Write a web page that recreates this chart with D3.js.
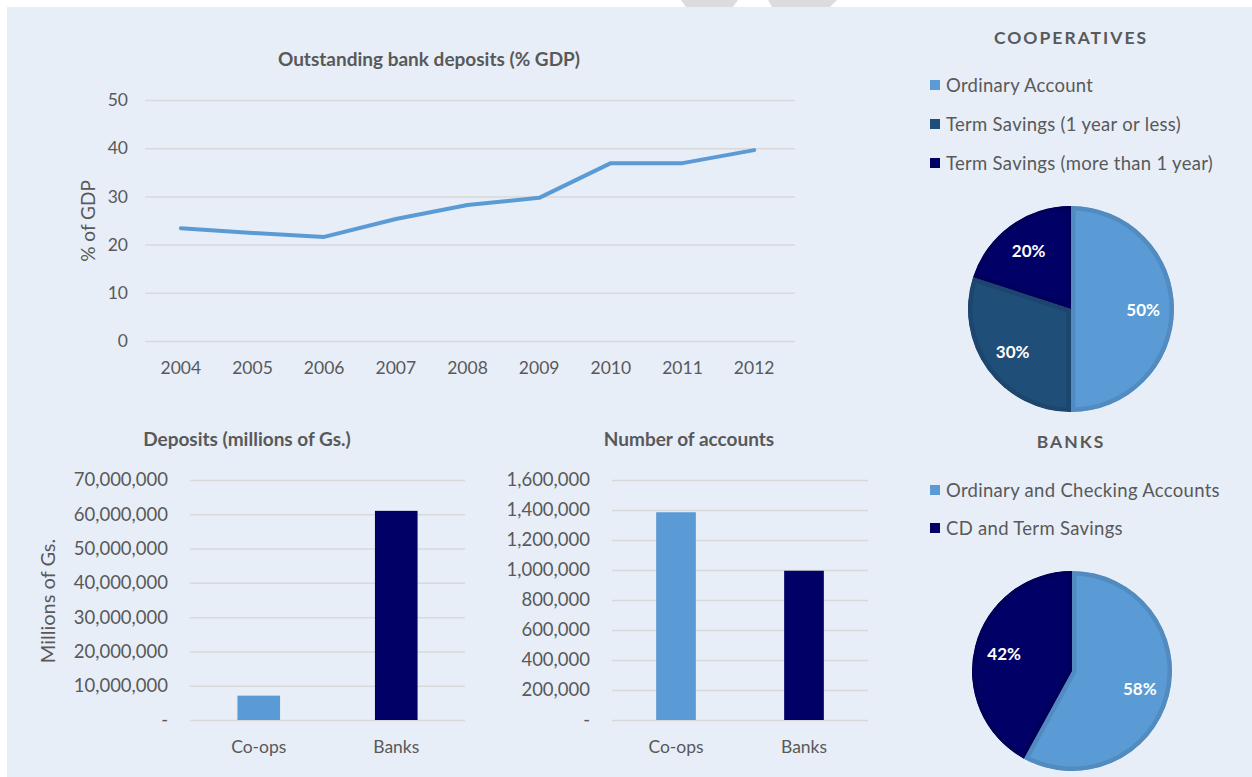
<!DOCTYPE html>
<html>
<head>
<meta charset="utf-8">
<script src="https://cdn.jsdelivr.net/npm/d3@7"></script>
<style>
  html, body { margin: 0; padding: 0; background: #ffffff; }
  svg { display: block; font-family: Lato, "Open Sans", sans-serif; }
</style>
</head>
<body>
<svg id="dash" width="1252" height="777"></svg>
<script>
// ---- data ----
const years = ['2004', '2005', '2006', '2007', '2008', '2009', '2010', '2011', '2012'];
const depositsPctGDP = [23.4, 22.4, 21.6, 25.3, 28.2, 29.7, 36.9, 36.9, 39.6];
const pctTicks = [0, 10, 20, 30, 40, 50];

const institutions = ['Co-ops', 'Banks'];
const depositsMillions = [7100000, 61000000];
const depositTicks = [0, 10000000, 20000000, 30000000, 40000000, 50000000, 60000000, 70000000];
const accountCounts = [1385000, 995000];
const accountTicks = [0, 200000, 400000, 600000, 800000, 1000000, 1200000, 1400000, 1600000];

const coopTypes = ['Ordinary Account', 'Term Savings (1 year or less)', 'Term Savings (more than 1 year)'];
const coopShares = [50, 30, 20];
const bankTypes = ['Ordinary and Checking Accounts', 'CD and Term Savings'];
const bankShares = [58, 42];

// ---- styling ----
const TEXT = '#595959';
const GRID = '#d9d9d9';
const LIGHT = '#5b9bd5';
const MID = '#1f4e79';
const NAVY = '#000066';

const svg = d3.select('#dash');

// panel background and the grey shape peeking above it
svg.append('polygon').attr('points', '681,0 738,0 733,7 686,7').attr('fill', '#dcdcdc');
svg.append('polygon').attr('points', '768,0 837,0 830,7 772,7').attr('fill', '#dcdcdc');
svg.append('rect').attr('x', 7).attr('y', 7).attr('width', 1245).attr('height', 770).attr('fill', '#e7eef8');

const tickFmt = d => d === 0 ? '-' : d3.format(',')(d);

function title(x, y, txt, opts = {}) {
  return svg.append('text')
    .attr('x', x).attr('y', y)
    .attr('text-anchor', 'middle').attr('dominant-baseline', 'central')
    .attr('fill', TEXT).attr('font-weight', 'bold')
    .attr('font-size', opts.size || 19)
    .attr('letter-spacing', opts.spacing || 0)
    .text(txt);
}

function yGrid(g, scale, ticks, x0, x1, fmt, labelX, size) {
  const axis = d3.axisLeft(scale).tickValues(ticks).tickSize(-(x1 - x0)).tickPadding(labelX).tickFormat(fmt);
  const ax = g.append('g').attr('transform', `translate(${x0},0)`).call(axis);
  ax.select('.domain').remove();
  ax.selectAll('.tick line').attr('stroke', GRID).attr('stroke-width', 1.5);
  ax.selectAll('.tick text').attr('fill', TEXT).attr('font-size', size || 17.5).attr('font-family', 'Lato, sans-serif');
  return ax;
}

function xLabels(g, scale, y) {
  const ax = g.append('g').attr('transform', `translate(0,${y})`)
    .call(d3.axisBottom(scale).tickSize(0).tickPadding(0));
  ax.select('.domain').remove();
  ax.selectAll('.tick text').attr('fill', TEXT).attr('font-size', 17.5)
    .attr('font-family', 'Lato, sans-serif').attr('dy', '0.35em');
  return ax;
}

function axisTitle(x, y, txt, size) {
  return svg.append('text').attr('transform', `translate(${x},${y}) rotate(-90)`)
    .attr('text-anchor', 'middle').attr('dominant-baseline', 'central')
    .attr('fill', TEXT).attr('font-size', size).text(txt);
}

// ---- line chart: deposits as % of GDP ----
{
  const g = svg.append('g');
  const x = d3.scaleBand().domain(years).range([145, 790]);
  const y = d3.scaleLinear().domain([0, 50]).range([341, 100]);
  title(429, 58, 'Outstanding bank deposits (% GDP)');
  yGrid(g, y, pctTicks, 145, 795, d3.format('d'), 17, 17.5);
  xLabels(g, x, 368);
  axisTitle(87, 221, '% of GDP', 19);
  const line = d3.line()
    .x((d, i) => x(years[i]) + x.bandwidth() / 2)
    .y(d => y(d));
  g.append('path').datum(depositsPctGDP)
    .attr('d', line).attr('fill', 'none')
    .attr('stroke', LIGHT).attr('stroke-width', 4).attr('stroke-linejoin', 'round').attr('stroke-linecap', 'round');
}

// ---- bar charts ----
function barChart(values, ticks, x0, x1, yMax, titleTxt, titleX, yTitle) {
  const g = svg.append('g');
  const x = d3.scaleBand().domain(institutions).range([x0, x1]);
  const y = d3.scaleLinear().domain([0, yMax]).range([720, 480]);
  title(titleX, 438, titleTxt);
  yGrid(g, y, ticks, x0, x1, tickFmt, 22, 18.5);
  xLabels(g, x, 747);
  const bw = x.bandwidth() * 0.31;
  g.selectAll('rect.bar').data(values).join('rect').attr('class', 'bar')
    .attr('x', (d, i) => x(institutions[i]) + (x.bandwidth() - bw) / 2)
    .attr('y', d => y(d))
    .attr('width', bw)
    .attr('height', d => y(0) - y(d))
    .attr('fill', (d, i) => i === 0 ? LIGHT : NAVY);
  if (yTitle) axisTitle(47, 601, yTitle, 20);
}
barChart(depositsMillions, depositTicks, 190, 465, 70000000, 'Deposits (millions of Gs.)', 247, 'Millions of Gs.');
barChart(accountCounts, accountTicks, 612, 868, 1600000, 'Number of accounts', 689, null);

// ---- pie charts ----
let clipId = 0;
function pieChart(labels, shares, colors, cx, cy, r, titleY, titleTxt, legendY, legendStep) {
  title(1071, titleY, titleTxt, { size: 17.5, spacing: 2 });
  const lg = svg.append('g');
  labels.forEach((lab, i) => {
    const ly = legendY + i * legendStep;
    lg.append('rect').attr('x', 930).attr('y', ly - 5).attr('width', 10).attr('height', 10).attr('fill', colors[i]);
    lg.append('text').attr('x', 946).attr('y', ly).attr('dominant-baseline', 'central')
      .attr('fill', TEXT).attr('font-size', 18.5).attr('letter-spacing', 0.3).text(lab);
  });
  const arcs = d3.pie().sort(null).value(d => d)(shares);
  const arc = d3.arc().innerRadius(0).outerRadius(r);
  const labelArc = d3.arc().innerRadius(r * 0.7).outerRadius(r * 0.7);
  const g = svg.append('g').attr('transform', `translate(${cx},${cy})`);
  arcs.forEach((a, i) => {
    const id = 'slice-clip-' + (clipId++);
    g.append('clipPath').attr('id', id).append('path').attr('d', arc(a));
    g.append('path').attr('d', arc(a))
      .attr('fill', colors[i])
      .attr('stroke', d3.color(colors[i]).darker(0.3).formatHex())
      .attr('stroke-width', 9)
      .attr('clip-path', `url(#${id})`);
  });
  g.selectAll('text.pct').data(arcs).join('text').attr('class', 'pct')
    .attr('transform', d => `translate(${labelArc.centroid(d)})`)
    .attr('text-anchor', 'middle').attr('dominant-baseline', 'central')
    .attr('fill', '#ffffff').attr('font-weight', 'bold').attr('font-size', 17)
    .text(d => d.data + '%');
}
pieChart(coopTypes, coopShares, [LIGHT, MID, NAVY], 1071, 309, 103, 37, 'COOPERATIVES', 85, 39);
pieChart(bankTypes, bankShares, [LIGHT, NAVY], 1072, 671, 100, 441, 'BANKS', 490, 38);
</script>
</body>
</html>
